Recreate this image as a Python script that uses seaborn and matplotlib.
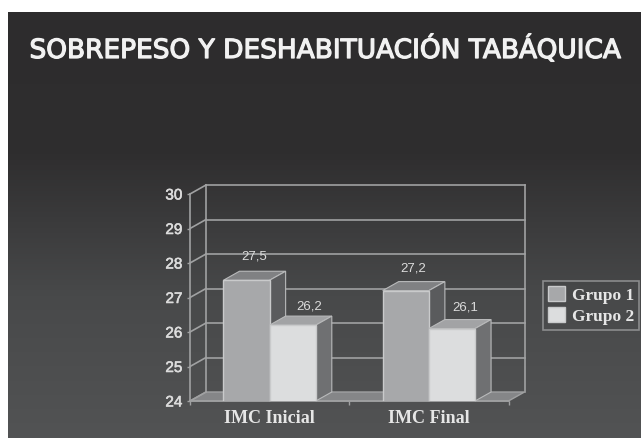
import numpy as np
import pandas as pd
import seaborn as sns
import matplotlib.pyplot as plt
import matplotlib.patheffects as pe
from matplotlib.patches import Polygon

title = "SOBREPESO Y DESHABITUACIÓN TABÁQUICA"
categories = ["IMC Inicial", "IMC Final"]
groups = ["Grupo 1", "Grupo 2"]
grupo1 = [27.5, 27.2]
grupo2 = [26.2, 26.1]
y_ticks = [24, 25, 26, 27, 28, 29, 30]

W, H = 641, 438
DEPTH_X, DEPTH_Y = 16, 9
GRID = "#a0a1a2"
LIGHT = "#dcdcdc"

df = pd.DataFrame({
    "cat": categories * 2,
    "grupo": [groups[0]] * 2 + [groups[1]] * 2,
    "imc": grupo1 + grupo2,
})

fig = plt.figure(figsize=(W / 100, H / 100), dpi=100, facecolor="white")


def box(x0, y0, x1, y1):
    # pixel box (y from top) -> figure fraction
    return [x0 / W, 1 - y1 / H, (x1 - x0) / W, (y1 - y0) / H]


# dark gradient slide
bg = fig.add_axes(box(8, 12, 641, 438))
bg.imshow(np.linspace(0, 1, 256).reshape(-1, 1), aspect="auto", cmap=sns.blend_palette(["#2d2c2d", "#2f2e2f", "#48494a", "#525354"], as_cmap=True))
bg.axis("off")

ax = fig.add_axes(box(190, 194, 508.5, 401))
ax.patch.set_alpha(0)
sns.barplot(data=df, x="cat", y="imc", hue="grupo", order=categories, hue_order=groups,
            palette=["#a7a8aa", "#dcddde"], width=0.58, gap=0, dodge=True, ax=ax,
            edgecolor="#c9cacb", linewidth=1, zorder=5, legend=True)
ax.set_xlim(-0.5, 1.5)
ax.set_ylim(24, 30)
ax.set_yticks(y_ticks)
ax.set_xlabel("")
ax.set_ylabel("")

# depth in data units
dx = DEPTH_X / (318.5 / 2)
dy = DEPTH_Y / (207 / 6)
x0, x1 = ax.get_xlim()

# floor and walls
ax.add_patch(Polygon([(x0, 24), (x0 + dx, 24 + dy), (x1 + dx, 24 + dy), (x1, 24)], closed=True,
                     fc="#858688", ec=GRID, lw=1, clip_on=False, zorder=1))
for t in y_ticks:
    if t > 24:
        ax.plot([x0 + dx, x1 + dx], [t + dy, t + dy], color=GRID, lw=1.2, clip_on=False, zorder=2)
    ax.plot([x0, x0 + dx], [t, t + dy], color=GRID, lw=1.2, clip_on=False, zorder=2)
ax.plot([x0 + dx, x0 + dx], [24 + dy, 30 + dy], color=GRID, lw=1.2, clip_on=False, zorder=2)
ax.plot([x1 + dx, x1 + dx], [24 + dy, 30 + dy], color=GRID, lw=1.2, clip_on=False, zorder=2)

# 3d faces on the seaborn bars
containers = ax.containers
faces = [("#808183", "#5a5b5d"), ("#a2a3a5", "#6f7072")]
label_offsets = [[(8, 24), (16, 19)], [(7, 22), (13, 21)]]
for g, cont in enumerate(containers):
    top_c, side_c = faces[g]
    for c, bar in enumerate(cont):
        l, r, t = bar.get_x(), bar.get_x() + bar.get_width(), bar.get_height() + bar.get_y()
        b = 24
        ax.add_patch(Polygon([(l, t), (l + dx, t + dy), (r + dx, t + dy), (r, t)], closed=True,
                             fc=top_c, ec="#b9babb", lw=0.8, zorder=4 + g * 2, clip_on=False))
        ax.add_patch(Polygon([(r, b), (r + dx, b + dy), (r + dx, t + dy), (r, t)], closed=True,
                             fc=side_c, ec="#b9babb", lw=0.8, zorder=4 + g * 2, clip_on=False))
        bar.set_zorder(5 + g * 2)
        off = label_offsets[c][g]
        ax.annotate(f"{bar.get_height():.1f}".replace(".", ","), (l + (r - l) / 2, t), xytext=off,
                    textcoords="offset pixels", ha="center", va="center", color=LIGHT,
                    fontsize=9.5, family="Liberation Sans", zorder=10)

for s in ["top", "right"]:
    ax.spines[s].set_visible(False)
for s in ["left", "bottom"]:
    ax.spines[s].set_color(GRID)
    ax.spines[s].set_linewidth(1.2)
ax.set_xticks([-0.5, 0.5, 1.5], minor=False)
ax.set_xticklabels([])
ax.tick_params(axis="x", color=GRID, length=3, width=1, direction="out")
ax.tick_params(axis="y", color=GRID, length=2.5, width=1, labelcolor=LIGHT, pad=3)
for lab in ax.get_yticklabels():
    lab.set_fontsize(11)
    lab.set_family("Liberation Sans")
    lab.set_path_effects([pe.withStroke(linewidth=0.4, foreground=LIGHT)])
for i, cat in enumerate(categories):
    ax.text(i, -0.085, cat, transform=ax.get_xaxis_transform(), ha="center", va="center", color="#e6e6e6",
            fontsize=13, fontweight="bold", family="Liberation Serif")

leg = ax.legend(loc="center left", bbox_to_anchor=(543 / W, 1 - 305.5 / H), bbox_transform=fig.transFigure,
                frameon=True, fancybox=False, borderaxespad=0, borderpad=0.3, labelspacing=0.2,
                handlelength=0.95, handleheight=0.95, handletextpad=0.4,
                prop={"family": "Liberation Serif", "weight": "bold", "size": 12.5})
leg.get_frame().set_facecolor("none")
leg.get_frame().set_edgecolor("#9c9d9e")
leg.get_frame().set_linewidth(1.2)
for txt in leg.get_texts():
    txt.set_color("#e6e6e6")
for h in leg.legend_handles:
    h.set_edgecolor("#c9cacb")

fig.text(325 / W, 1 - 50 / H, title, ha="center", va="center", color="#f2f2f2", fontsize=19,
         family="DejaVu Sans", path_effects=[pe.withStroke(linewidth=0.9, foreground="#f2f2f2")])

fig.savefig("out.png", dpi=100, facecolor="white")
